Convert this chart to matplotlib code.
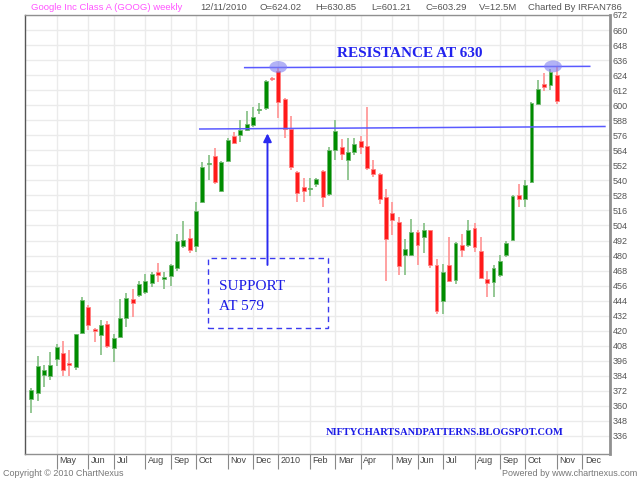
import matplotlib
matplotlib.use("Agg")
import matplotlib.pyplot as plt
import matplotlib.transforms as mtransforms
from matplotlib.patches import Ellipse, Rectangle
import numpy as np
import pandas as pd

# ---------------- data ----------------
opens = [365.7, 370.5, 385.0, 384.0, 397.5, 402.2, 394.3, 391.4, 418.1, 439.3,
         421.3, 416.3, 425.2, 405.9, 415.2, 429.8, 445.6, 448.5, 451.2, 458.0,
         467.0, 461.0, 463.5, 470.2, 487.4, 494.2, 487.4, 522.9, 552.7, 559.7,
         531.7, 555.6, 575.3, 576.5, 580.6, 583.9, 596.0, 597.7, 621.8, 627.6,
         605.2, 581.3, 546.4, 534.7, 532.9, 536.9, 547.7, 528.9, 564.6, 566.8,
         556.5, 562.8, 571.5, 567.6, 549.0, 545.1, 526.6, 513.9, 506.4, 480.2,
         480.2, 498.8, 494.8, 500.1, 472.1, 443.8, 472.3, 460.4, 488.7, 488.7,
         502.0, 483.4, 461.4, 458.8, 464.1, 480.2, 492.7, 528.4, 524.9, 539.0,
         601.2, 617.0, 616.3, 624.02]
highs = [374.2, 399.6, 393.0, 402.8, 409.4, 411.5, 404.9, 417.5, 447.2, 440.8,
         422.3, 428.2, 427.4, 417.3, 445.6, 450.4, 453.6, 459.4, 465.0, 466.5,
         474.2, 467.0, 473.0, 497.5, 507.2, 501.4, 522.9, 554.3, 560.3, 565.6,
         555.5, 573.7, 578.8, 588.1, 595.5, 598.2, 601.9, 620.0, 622.5, 630.8,
         606.0, 591.1, 547.5, 541.6, 542.2, 542.2, 548.0, 566.8, 588.5, 572.7,
         573.5, 573.5, 575.2, 598.5, 556.0, 546.0, 532.9, 523.1, 510.8, 493.5,
         509.4, 500.6, 505.6, 500.6, 477.4, 472.9, 494.8, 490.5, 497.5, 508.6,
         505.6, 494.8, 467.6, 472.1, 480.8, 491.3, 528.0, 537.1, 540.3, 602.5,
         620.2, 625.6, 628.5, 630.85]
lows = [354.6, 363.6, 375.0, 380.6, 391.6, 383.7, 384.2, 389.0, 417.5, 420.7,
        411.2, 400.6, 405.9, 395.3, 414.7, 423.1, 431.3, 447.2, 449.0, 455.0,
        459.0, 453.0, 455.5, 468.0, 486.0, 482.1, 482.9, 521.8, 540.5, 537.3,
        531.0, 554.8, 569.5, 570.8, 579.8, 582.8, 593.1, 596.0, 619.0, 589.8,
        574.2, 548.3, 522.4, 522.4, 527.9, 534.7, 519.1, 527.9, 556.5, 556.5,
        540.3, 560.1, 560.7, 548.3, 542.4, 521.3, 459.6, 496.4, 464.1, 464.1,
        480.0, 472.1, 482.1, 470.2, 433.7, 433.7, 459.6, 457.0, 479.0, 486.6,
        482.9, 461.7, 447.2, 447.2, 463.1, 479.0, 492.2, 518.6, 519.1, 537.7,
        601.2, 611.2, 611.8, 601.21]
closes = [372.3, 391.7, 389.0, 392.7, 406.7, 389.0, 392.7, 417.0, 444.6, 424.7,
          419.7, 424.7, 408.1, 413.9, 429.8, 446.1, 442.5, 457.0, 459.6, 465.5,
          464.4, 463.0, 472.3, 491.3, 492.7, 484.2, 515.8, 550.4, 554.0, 539.1,
          554.8, 572.6, 570.0, 580.2, 585.1, 590.5, 596.6, 619.1, 620.7, 602.5,
          580.8, 550.4, 530.3, 531.2, 533.4, 540.8, 527.1, 564.1, 579.7, 560.7,
          562.8, 569.4, 566.8, 550.2, 545.1, 525.5, 493.3, 508.2, 471.5, 485.6,
          498.8, 488.2, 500.1, 472.3, 435.8, 467.1, 459.6, 490.1, 484.8, 500.1,
          486.6, 461.7, 458.3, 470.2, 475.9, 490.1, 527.6, 525.2, 536.3, 602.0,
          613.1, 614.4, 626.4, 603.29]

first_week = "2009-04-03"          # weekly candles (Fridays)
month_names = ["Jan", "Feb", "Mar", "Apr", "May", "Jun", "Jul", "Aug",
               "Sep", "Oct", "Nov", "Dec"]
y_ticks = list(range(336, 673, 12))
resistance = (630, 631)
support = (581, 583)

# ---------------- figure ----------------
plt.rcParams['font.family'] = ['Liberation Sans', 'DejaVu Sans']
fig = plt.figure(figsize=(6.4, 4.8), dpi=100)
ax = fig.add_axes([25 / 640, 1 - 454 / 480, 585 / 640, 439 / 480])

n = len(opens)
idx = np.arange(1, n + 1)
dates = pd.date_range(first_week, periods=n + 10, freq="7D")

# month ticks: first candle of each month
tick_pos, tick_lab = [], []
for i in range(1, len(dates)):
    if dates[i].month != dates[i - 1].month:
        pos = i + 1
        if pos > 92:
            break
        m = dates[i].month
        tick_pos.append(pos)
        tick_lab.append(str(dates[i].year) if m == 1 else month_names[m - 1])

# grid
for p in tick_pos:
    ax.axvline(p, color="#ebebeb", lw=1, zorder=0)
for yv in y_ticks:
    ax.axhline(yv, color="#ebebeb", lw=1, zorder=0)

# candles
o = np.array(opens); h = np.array(highs); l = np.array(lows); c = np.array(closes)
up = c >= o
body_col = np.where(up, "#008c00", "#ff1a1a")
wick_col = np.where(up, "#8cc48c", "#ff9a9a")
edge_col = np.where(up, "#6fb86f", "#ff8080")
ax.vlines(idx, l, h, colors=wick_col, lw=1.3, zorder=2)
bottoms = np.minimum(o, c)
heights = np.maximum(np.abs(c - o), 0.9)
ax.bar(idx, heights, bottom=bottoms, width=0.62, color=body_col,
       edgecolor=edge_col, linewidth=0.6, zorder=3)

# resistance / support lines
ax.plot([34.7, 89.2], list(resistance), color="#5a5aff", lw=1.1, zorder=4)
ax.plot([27.6, 91.6], list(support), color="#5a5aff", lw=1.1, zorder=4)
ax.add_patch(Ellipse((40.0, 630.5), 2.8, 9.5, color="#7f7ff0", alpha=0.6, zorder=5, lw=0))
ax.add_patch(Ellipse((83.4, 631.0), 2.8, 9.5, color="#7f7ff0", alpha=0.6, zorder=5, lw=0))

ax.text(60.8, 641.5, "RESISTANCE AT 630", color="#2222ee", ha="center", va="center",
        fontsize=11, fontweight="bold", family=["Liberation Serif", "DejaVu Serif"])

# arrow & support box
ax.annotate("", xy=(38.3, 577.5), xytext=(38.3, 472.5),
            arrowprops=dict(arrowstyle="-|>", color="#2a2af0", lw=1.4,
                            mutation_scale=12, shrinkA=0, shrinkB=0), zorder=6)
ax.add_patch(Rectangle((28.85, 422.2), 47.8 - 28.85, 478.1 - 422.2, fill=False,
                       edgecolor="#3a3af0", lw=1.0, ls=(0, (4, 3)), zorder=5))
ax.text(30.6, 455.0, "SUPPORT", color="#1a1ae6", ha="left", va="center",
        fontsize=11, family=["Liberation Serif", "DejaVu Serif"])
ax.text(30.6, 439.0, "AT 579", color="#1a1ae6", ha="left", va="center",
        fontsize=11, family=["Liberation Serif", "DejaVu Serif"])
ax.text(66.3, 338.6, "NIFTYCHARTSANDPATTERNS.BLOGSPOT.COM", color="#1a1ae6",
        ha="center", va="center", fontsize=7.5, fontweight="bold",
        family=["Liberation Serif", "DejaVu Serif"])

# axes
ax.set_xlim(0, 92.4)
ax.set_ylim(321.6, 672)
ax.yaxis.tick_right()
ax.set_yticks(y_ticks)
ax.set_yticklabels([str(v) for v in y_ticks])
ax.tick_params(axis="y", length=0, pad=2, labelsize=6.5, labelcolor="#555555")
ax.set_xticks(tick_pos)
ax.set_xticklabels(tick_lab)
ax.tick_params(axis="x", length=11, width=0.8, color="#888888", pad=-9.5,
               labelsize=6.5, labelcolor="#444444", direction="out")
offset = mtransforms.ScaledTranslation(2 / 72, 0, fig.dpi_scale_trans)
for lab in ax.get_xticklabels():
    lab.set_horizontalalignment("left")
    lab.set_verticalalignment("top")
    lab.set_transform(lab.get_transform() + offset)
for s in ax.spines.values():
    s.set_color("#909090")
    s.set_linewidth(1.0)
ax.spines["left"].set_color("#555555")
ax.spines["right"].set_linewidth(2.0)

# header & footer
hy = 1 - 8 / 480
fig.text(31 / 640, hy, "Google Inc Class A (GOOG) weekly", color="#ff55ff",
         fontsize=6.8, va="center")
hdr = [(200, "12/11/2010"), (259, "O=624.02"), (315, "H=630.85"), (371, "L=601.21"),
       (426, "C=603.29"), (479, "V=12.5M"), (528, "Charted By IRFAN786")]
for xp, t in hdr:
    fig.text(xp / 640, hy, t, color="#555555", fontsize=6.8, va="center")
fig.text(3 / 640, 1 - 474 / 480, "Copyright © 2010 ChartNexus", color="#777777",
         fontsize=6.5, va="center")
fig.text(637 / 640, 1 - 474 / 480, "Powered by www.chartnexus.com", color="#777777",
         fontsize=6.5, va="center", ha="right")

fig.savefig("out.png", dpi=100)
